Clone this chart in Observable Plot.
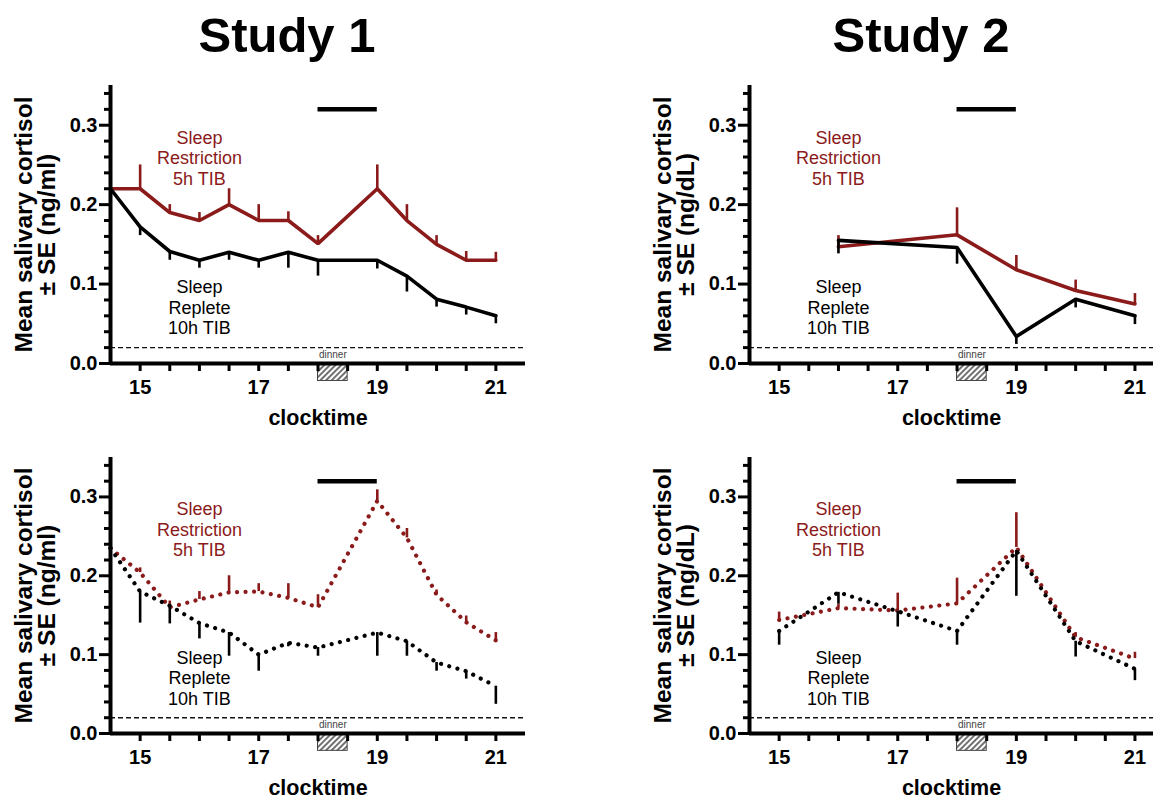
<!DOCTYPE html>
<html>
<head>
<meta charset="utf-8">
<script src="https://cdn.jsdelivr.net/npm/d3@7"></script>
<script src="https://cdn.jsdelivr.net/npm/@observablehq/plot@0.6"></script>
<style>
  html, body { margin: 0; padding: 0; background: #fff; overflow: hidden; }
  #wrap { position: relative; width: 1153px; height: 800px; overflow: hidden; background: #fff; }
  .title { position: absolute; top: 11px; font: bold 49px "Liberation Sans", Arial, sans-serif; line-height: 1; transform: translateX(-50%); white-space: nowrap; color: #000; }
  .panel { position: absolute; }
</style>
</head>
<body>
<div id="wrap"></div>
<script>
// ---------- data ----------
const titles = ["Study 1", "Study 2"];
const yUnits = ["ng/ml", "ng/dL"];
const xLabel = "clocktime";
const xTickValues = [15, 15.5, 16, 16.5, 17, 17.5, 18, 18.5, 19, 19.5, 20, 20.5, 21];
const xTickLabels = [15, 17, 19, 21];
const yTickLabels = [0, 0.1, 0.2, 0.3];
const yMinorTicks = [0.02, 0.04, 0.06, 0.08, 0.12, 0.14, 0.16, 0.18, 0.22, 0.24, 0.26, 0.28, 0.32, 0.34];
const detectionLimit = 0.02;
const dinnerWindow = [18, 18.5];
const dinnerLabel = "dinner";
const mealBar = [18, 19];
const mealBarLevel = 0.32;
const groupLabels = ["Sleep\nRestriction\n5h TIB", "Sleep\nReplete\n10h TIB"];
const groupLabelAt = [[16, 0.259], [16, 0.071]];

// Study 1, top (solid)
const hoursS1 = [14.5, 15, 15.5, 16, 16.5, 17, 17.5, 18, 19, 19.5, 20, 20.5, 21];
const s1TopRestr   = [0.22, 0.22, 0.19, 0.18, 0.20, 0.18, 0.18, 0.151, 0.22, 0.18, 0.15, 0.13, 0.13];
const s1TopRestrSE = [0.022, 0.03, 0.01, 0.01, 0.02, 0.02, 0.011, 0.01, 0.03, 0.02, 0.011, 0.011, 0.01];
const s1TopRepl    = [0.22, 0.172, 0.141, 0.13, 0.14, 0.13, 0.14, 0.13, 0.13, 0.11, 0.081, 0.071, 0.06];
const s1TopReplSE  = [0, 0.011, 0.011, 0.01, 0.01, 0.01, 0.02, 0.02, 0.011, 0.02, 0.01, 0.01, 0.01];

// Study 2, top (solid)
const hoursS2Top = [16, 18, 19, 20, 21];
const s2TopRestr   = [0.147, 0.162, 0.118, 0.092, 0.075];
const s2TopRestrSE = [0.014, 0.034, 0.018, 0.013, 0.013];
const s2TopRepl    = [0.155, 0.146, 0.034, 0.081, 0.06];
const s2TopReplSE  = [0.017, 0.021, 0.01, 0.011, 0.011];

// Study 1, bottom (dotted)
const s1BotRestr   = [0.235, 0.204, 0.16, 0.17, 0.179, 0.18, 0.172, 0.16, 0.295, 0.248, 0.176, 0.141, 0.118];
const s1BotRestrSE = [0.013, 0.006, 0.008, 0.01, 0.021, 0.01, 0.018, 0.016, 0.014, 0.012, 0.006, 0.008, 0.01];
const s1BotRepl    = [0.235, 0.18, 0.162, 0.14, 0.128, 0.10, 0.115, 0.109, 0.128, 0.117, 0.09, 0.079, 0.06];
const s1BotReplSE  = [0, 0.04, 0.023, 0.02, 0.03, 0.021, 0.005, 0.011, 0.03, 0.019, 0.011, 0.01, 0.023];

// Study 2, bottom (dotted)
const hoursS2Bot = [15, 16, 17, 18, 19, 20, 21];
const s2BotRestr   = [0.144, 0.159, 0.156, 0.165, 0.236, 0.122, 0.095];
const s2BotRestrSE = [0.01, 0.005, 0.022, 0.032, 0.044, 0.006, 0.008];
const s2BotRepl    = [0.13, 0.179, 0.155, 0.13, 0.232, 0.117, 0.082];
const s2BotReplSE  = [0.018, 0.015, 0.02, 0.018, 0.058, 0.02, 0.015];

// ---------- drawing ----------
const RED = "#8b1a1a";
const FONT = '"Liberation Sans", Arial, Helvetica, sans-serif';

function panel(o) {
  const R = o.hours.map((t, i) => ({t, v: o.restr[i], se: o.restrSE[i]}));
  const B = o.hours.map((t, i) => ({t, v: o.repl[i], se: o.replSE[i]}));
  const ls = o.dotted
    ? {strokeDasharray: "0.01 8.5", strokeLinecap: "round", strokeWidth: 4.2}
    : {strokeWidth: 3.6, strokeLinejoin: "miter"};
  const svg = Plot.plot({
    width: o.width, height: o.height,
    marginTop: o.mt, marginBottom: o.mb, marginLeft: o.ml, marginRight: o.mr,
    x: {domain: [14.5, o.xmax]},
    y: {domain: [0, 0.35]},
    style: {fontFamily: FONT, fontWeight: "bold", color: "#000", background: "transparent", overflow: "visible"},
    marks: [
      Plot.ruleY([detectionLimit], {x1: 14.5, x2: o.xmax, strokeDasharray: "5,3", strokeWidth: 1.3, stroke: "#111"}),
      Plot.ruleY([mealBarLevel], {x1: mealBar[0], x2: mealBar[1], strokeWidth: 4.5, stroke: "#000"}),
      Plot.rect([dinnerWindow], {x1: d => d[0], x2: d => d[1], y1: 0, y2: -0.022, fill: `url(#hatch${o.id})`, stroke: "#444", strokeWidth: 1}),
      Plot.text([dinnerLabel], {x: (dinnerWindow[0] + dinnerWindow[1]) / 2, y: 0.0105, text: d => d, fontSize: 10, fontWeight: "normal", fill: "#444"}),
      Plot.ruleX(R, {x: "t", y1: "v", y2: d => d.v + d.se, stroke: RED, strokeWidth: 2.6}),
      Plot.line(R, {x: "t", y: "v", stroke: RED, ...ls}),
      Plot.ruleX(B, {x: "t", y1: "v", y2: d => d.v - d.se, stroke: "#000", strokeWidth: 2.6}),
      Plot.line(B, {x: "t", y: "v", stroke: "#000", ...ls}),
      Plot.text([groupLabels[0]], {x: groupLabelAt[0][0], y: groupLabelAt[0][1], text: d => d, fill: RED, fontSize: 18, fontWeight: "normal", lineHeight: 1.14}),
      Plot.text([groupLabels[1]], {x: groupLabelAt[1][0], y: groupLabelAt[1][1], text: d => d, fill: "#000", fontSize: 18, fontWeight: "normal", lineHeight: 1.14}),
      Plot.axisY({ticks: yMinorTicks, tickSize: 6, tickFormat: () => "", strokeWidth: 3, label: null}),
      Plot.axisY({ticks: yTickLabels, tickSize: 11, tickPadding: 2, tickFormat: d3.format(".1f"), fontSize: 20, fontWeight: "bold", strokeWidth: 3, label: null}),
      Plot.axisX({ticks: xTickValues, tickSize: 8, tickPadding: 8, tickFormat: d => xTickLabels.includes(d) ? String(d) : "", fontSize: 20, fontWeight: "bold", strokeWidth: 3, label: null}),
      Plot.ruleX([14.5], {y1: 0, y2: 0.35, strokeWidth: 4, stroke: "#000"}),
      Plot.ruleY([0], {x1: 14.5, x2: o.xmax, strokeWidth: 4, stroke: "#000"}),
      Plot.text([`Mean salivary cortisol\n± SE (${o.unit})`], {text: d => d, frameAnchor: "left", textAnchor: "middle", lineAnchor: "middle", dx: -74, rotate: -90, fontSize: 24.5, fontWeight: "bold", lineHeight: 0.92}),
      Plot.text([xLabel], {text: d => d, frameAnchor: "bottom", textAnchor: "middle", lineAnchor: "middle", dy: 55, fontSize: 21.5, fontWeight: "bold"})
    ]
  });
  d3.select(svg).insert("defs", ":first-child").html(
    `<pattern id="hatch${o.id}" width="4" height="4" patternUnits="userSpaceOnUse" patternTransform="rotate(45)">` +
    `<rect width="4" height="4" fill="#fff"/><line x1="1" y1="0" x2="1" y2="4" stroke="#333" stroke-width="1.4"/></pattern>`);
  const div = document.createElement("div");
  div.className = "panel";
  div.style.left = o.left + "px";
  div.style.top = o.top + "px";
  div.appendChild(svg);
  return div;
}

const wrap = document.getElementById("wrap");
titles.forEach((t, i) => {
  const d = document.createElement("div");
  d.className = "title";
  d.textContent = t;
  d.style.left = (i === 0 ? 287 : 921) + "px";
  wrap.appendChild(d);
});

const leftGeo = {left: 0, width: 576, ml: 110, mr: 51, xmax: 21.5};
const rightGeo = {left: 577, width: 576, ml: 172, mr: 0, xmax: 14.5 + 404 / 59.3};
const topGeo = {top: 60, height: 380, mt: 25, mb: 77};
const botGeo = {top: 430, height: 370, mt: 27, mb: 67};

wrap.appendChild(panel({id: 0, ...leftGeo, ...topGeo, unit: yUnits[0], dotted: false,
  hours: hoursS1, restr: s1TopRestr, restrSE: s1TopRestrSE, repl: s1TopRepl, replSE: s1TopReplSE}));
wrap.appendChild(panel({id: 1, ...rightGeo, ...topGeo, unit: yUnits[1], dotted: false,
  hours: hoursS2Top, restr: s2TopRestr, restrSE: s2TopRestrSE, repl: s2TopRepl, replSE: s2TopReplSE}));
wrap.appendChild(panel({id: 2, ...leftGeo, ...botGeo, unit: yUnits[0], dotted: true,
  hours: hoursS1, restr: s1BotRestr, restrSE: s1BotRestrSE, repl: s1BotRepl, replSE: s1BotReplSE}));
wrap.appendChild(panel({id: 3, ...rightGeo, ...botGeo, unit: yUnits[1], dotted: true,
  hours: hoursS2Bot, restr: s2BotRestr, restrSE: s2BotRestrSE, repl: s2BotRepl, replSE: s2BotReplSE}));
</script>
</body>
</html>
